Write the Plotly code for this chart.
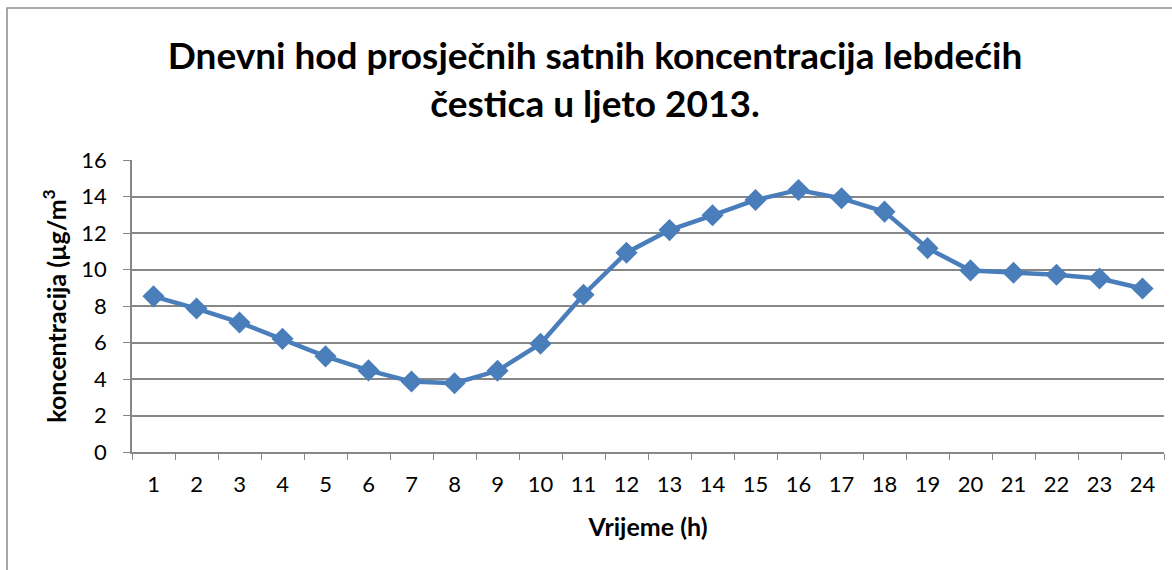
import plotly.graph_objects as go

# Hourly averages of suspended particulate concentration, summer 2013
hours = [str(h) for h in range(1, 25)]
concentration = [8.53, 7.86, 7.10, 6.20, 5.24, 4.47, 3.86, 3.77, 4.45, 5.93,
                 8.62, 10.92, 12.16, 12.97, 13.81, 14.36, 13.90, 13.17, 11.17,
                 9.95, 9.82, 9.71, 9.51, 8.96]
y_ticks = [0, 2, 4, 6, 8, 10, 12, 14, 16]

W, H = 1172, 570
ML, MR, MT, MB = 132, 8, 160, 118

blue = "#4A7EBB"
grid = "#878787"
font_family = "Lato, 'Open Sans', sans-serif"

fig = go.Figure(
    go.Scatter(
        x=hours,
        y=concentration,
        mode="lines+markers",
        line=dict(color=blue, width=4.5),
        marker=dict(symbol="diamond", size=17, color=blue,
                    line=dict(color=blue, width=0)),
        showlegend=False,
        hoverinfo="x+y",
    )
)

fig.update_layout(
    width=W,
    height=H,
    margin=dict(l=ML, r=MR, t=MT, b=MB),
    paper_bgcolor="white",
    plot_bgcolor="white",
    font=dict(family=font_family, color="black"),
    title=dict(
        text="Dnevni hod prosječnih satnih koncentracija lebdećih<br>čestica u ljeto 2013.",
        x=595 / W,
        xanchor="center",
        y=1 - 69 / H,
        yanchor="middle",
        font=dict(family=font_family, size=37, color="black", weight="bold"),
    ),
    xaxis=dict(
        type="category",
        tickson="boundaries",
        ticks="outside",
        ticklen=6,
        tickcolor=grid,
        showline=True,
        linecolor=grid,
        linewidth=1.5,
        showgrid=False,
        tickfont=dict(size=22, family=font_family),
        ticklabelstandoff=12,
        title=dict(text="<b>Vrijeme (h)</b>", font=dict(size=25), standoff=22),
        range=[-0.5, 23.5],
        fixedrange=True,
    ),
    yaxis=dict(
        range=[0, 16],
        tickvals=y_ticks,
        ticks="outside",
        ticklen=7,
        tickcolor=grid,
        showline=True,
        linecolor=grid,
        linewidth=1.5,
        showgrid=True,
        gridcolor=grid,
        gridwidth=1.5,
        zeroline=False,
        tickfont=dict(size=22, family=font_family),
        ticklabelstandoff=12,
        title=dict(text="<b>koncentracija (µg/m<sup>3</sup></b>",
                   font=dict(size=25), standoff=8),
        fixedrange=True,
    ),
)

# Thin frame around the chart area
fig.add_shape(
    type="rect",
    xref="paper", yref="paper",
    x0=(7 - ML) / (W - ML - MR),
    x1=(W + 5 - ML) / (W - ML - MR),
    y0=-(H + 5 - (H - MB)) / (H - MT - MB),
    y1=1 + (MT - 8) / (H - MT - MB),
    line=dict(color="#8c8c8c", width=1.5),
    fillcolor="rgba(0,0,0,0)",
    layer="below",
)

fig.write_html("out.html")
